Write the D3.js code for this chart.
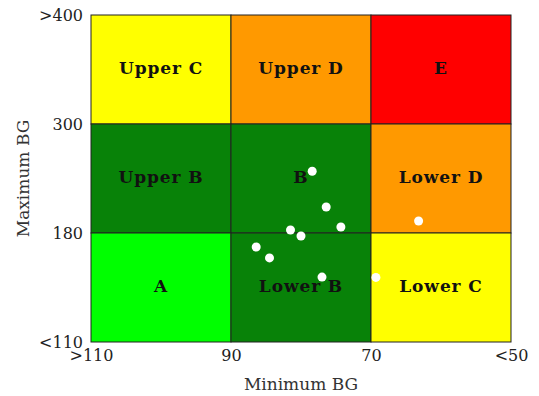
<!DOCTYPE html>
<html>
<head>
<meta charset="utf-8">
<script src="https://cdn.jsdelivr.net/npm/d3@7"></script>
<style>
  body { margin: 0; background: #fff; }
  text { font-family: "DejaVu Serif", "Liberation Serif", serif; }
  .axis path { display: none; }
  .axis text { font-size: 16px; fill: #222; }
  .zone-label { font-size: 17px; font-weight: bold; fill: #111; letter-spacing: 0.9px; }
  .axisText { font-size: 17px; fill: #333; }
</style>
</head>
<body>
<div id="chart"></div>
<script>
// zone grid
var minBounds = [110, 90, 70, 50];
var maxBounds = [110, 180, 300, 400];
var xTickLabels = [">110", "90", "70", "<50"];
var yTickLabels = ["<110", "180", "300", ">400"];

// rows top to bottom, columns left to right
var zoneNames = [
  ["Upper C", "Upper D", "E"],
  ["Upper B", "B", "Lower D"],
  ["A", "Lower B", "Lower C"]
];
var zoneColors = [
  ["#ffff00", "#ff9900", "#ff0000"],
  ["#088208", "#088208", "#ff9900"],
  ["#00ff00", "#088208", "#ffff00"]
];

// patient points (min BG, max BG)
var minBG = [78.4, 76.4, 81.5, 74.3, 80.0, 86.4, 84.5, 77.0, 69.3, 63.2];
var maxBG = [248, 208.6, 183.3, 186.6, 178.1, 171, 164, 151.7, 151.5, 193.2];

var svgWidth = 539;
var svgHeight = 396;
var margin = { top: 15, right: 28, bottom: 54, left: 91 };
var width = svgWidth - margin.left - margin.right;
var height = svgHeight - margin.top - margin.bottom;

var svg = d3.select("#chart")
  .append("svg")
  .attr("width", svgWidth)
  .attr("height", svgHeight);

var chartGroup = svg.append("g")
  .attr("transform", `translate(${margin.left}, ${margin.top})`);

var xScale = d3.scaleLinear()
  .domain(minBounds)
  .range(minBounds.map((d, i) => i * width / 3));

var yScale = d3.scaleLinear()
  .domain(maxBounds)
  .range(maxBounds.map((d, i) => height - i * height / 3));

// cells
var cells = [];
zoneNames.forEach(function(row, r) {
  row.forEach(function(name, c) {
    cells.push({
      name: name,
      color: zoneColors[r][c],
      x0: minBounds[c], x1: minBounds[c + 1],
      y0: maxBounds[3 - r], y1: maxBounds[2 - r]
    });
  });
});

chartGroup.selectAll("rect.zone")
  .data(cells)
  .enter()
  .append("rect")
  .attr("class", "zone")
  .attr("x", d => xScale(d.x0))
  .attr("y", d => yScale(d.y0))
  .attr("width", d => xScale(d.x1) - xScale(d.x0))
  .attr("height", d => yScale(d.y1) - yScale(d.y0))
  .attr("fill", d => d.color)
  .attr("stroke", "#222")
  .attr("stroke-width", 1);

chartGroup.selectAll("text.zone-label")
  .data(cells)
  .enter()
  .append("text")
  .attr("class", "zone-label")
  .attr("x", d => (xScale(d.x0) + xScale(d.x1)) / 2)
  .attr("y", d => (yScale(d.y0) + yScale(d.y1)) / 2)
  .attr("text-anchor", "middle")
  .attr("dy", "0.27em")
  .text(d => d.name);

var points = minBG.map((d, i) => ({ min: d, max: maxBG[i] }));

chartGroup.selectAll("circle")
  .data(points)
  .enter()
  .append("circle")
  .attr("cx", d => xScale(d.min))
  .attr("cy", d => yScale(d.max))
  .attr("r", 4.5)
  .attr("fill", "white");

var xAxis = d3.axisBottom(xScale)
  .tickValues(minBounds)
  .tickFormat((d, i) => xTickLabels[i])
  .tickSize(0)
  .tickPadding(8);

var yAxis = d3.axisLeft(yScale)
  .tickValues(maxBounds)
  .tickFormat((d, i) => yTickLabels[i])
  .tickSize(0)
  .tickPadding(8);

chartGroup.append("g")
  .attr("class", "axis")
  .attr("transform", `translate(0, ${height})`)
  .call(xAxis);

chartGroup.append("g")
  .attr("class", "axis")
  .call(yAxis);

chartGroup.append("text")
  .attr("transform", "rotate(-90)")
  .attr("y", 28.5 - margin.left)
  .attr("x", 0 - (height / 2))
  .attr("text-anchor", "middle")
  .attr("class", "axisText")
  .text("Maximum BG");

chartGroup.append("text")
  .attr("transform", `translate(${width / 2}, ${height + 48})`)
  .attr("text-anchor", "middle")
  .attr("class", "axisText")
  .text("Minimum BG");
</script>
</body>
</html>
